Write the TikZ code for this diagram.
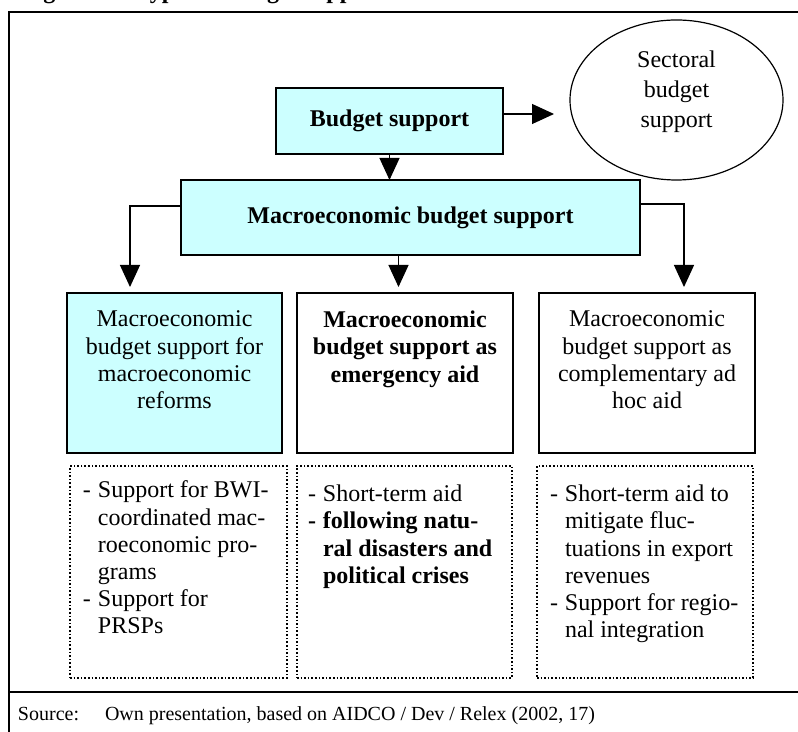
\documentclass[tikz,border=0pt]{standalone}
\usepackage{fontspec}
\setmainfont{Liberation Serif}
\usetikzlibrary{arrows.meta,shapes.geometric}
\definecolor{boxcyan}{RGB}{204,255,255}
\newcommand\lstdash{\makebox[7.5pt][l]{-}}
\newcommand\lstind{\hspace*{7.5pt}}
\begin{document}
\begin{tikzpicture}[x=0.5pt,y=-0.5pt,
  every node/.style={font=\fontsize{12}{13.6}\selectfont, inner sep=0pt, outer sep=0pt},
  cyanbox/.style={draw, line width=0.75pt, fill=boxcyan, rectangle},
  plainbox/.style={draw, line width=0.75pt, rectangle},
  dotbox/.style={draw, densely dotted, line width=0.8pt, rectangle},
  arr/.style={line width=0.6pt, -{Triangle[length=11pt,width=10pt]}},
  frameline/.style={line width=1pt},
  boxtext/.style={align=center, anchor=north},
  listtext/.style={align=left, anchor=north west}]
\useasboundingbox (0,0) rectangle (798,732);
\clip (0,0) rectangle (798,732);

% frame
\draw[frameline] (9,732) -- (9,12) -- (798,12);
\draw[frameline] (9,692) -- (798,692);

% title (cut off at the top, only descenders show)
\node[anchor=base west, font=\bfseries\fontsize{12}{14}\selectfont] (title) at (22,-1) {Figure 12: Types of budget support};

% top nodes
\node[cyanbox, minimum width=113.5pt, minimum height=33pt, font=\bfseries\fontsize{12}{13.6}\selectfont] (bs) at (389.5,121) {Budget support};
\node[draw, ellipse, line width=0.6pt, minimum width=106.5pt, minimum height=80pt] (sec) at (676.5,100) {};
\node[align=center, font=\fontsize{12}{15}\selectfont] (sect) at (676.5,92) {Sectoral\\budget\\support};
\node[cyanbox, minimum width=229.5pt, minimum height=37.5pt, font=\bfseries\fontsize{12}{13.6}\selectfont] (mb) at (410.5,217.5) {Macroeconomic budget support};

% row boxes
\node[cyanbox, minimum width=107.5pt, minimum height=80pt] (b1) at (174.5,373) {};
\node[plainbox, minimum width=108pt, minimum height=80pt] (b2) at (405,373) {};
\node[plainbox, minimum width=108pt, minimum height=80pt] (b3) at (647,373) {};
\node[boxtext] (b1t) at (174.5,311) {Macroeconomic\\budget support for\\macroeconomic\\reforms};
\node[boxtext, font=\bfseries\fontsize{12}{13.6}\selectfont] (b2t) at (405,311) {Macroeconomic\\budget support as\\emergency aid};
\node[boxtext] (b3t) at (647,311) {Macroeconomic\\budget support as\\complementary ad\\hoc aid};

% dotted boxes
\node[dotbox, minimum width=108.5pt, minimum height=106pt] (d1) at (178.5,572) {};
\node[dotbox, minimum width=107.5pt, minimum height=106pt] (d2) at (404.5,572) {};
\node[dotbox, minimum width=108pt, minimum height=106pt] (d3) at (645,572) {};
\node[listtext] (d1t) at (83,481) {\lstdash Support for BWI-\\\lstind coordinated mac-\\\lstind roeconomic pro-\\\lstind grams\\\lstdash Support for\\\lstind PRSPs};
\node[listtext] (d2t) at (308,485) {\lstdash Short-term aid\\\textbf{\lstdash following natu-}\\\lstind\textbf{ral disasters and}\\\lstind\textbf{political crises}};
\node[listtext] (d3t) at (550,485) {\lstdash Short-term aid to\\\lstind mitigate fluc-\\\lstind tuations in export\\\lstind revenues\\\lstdash Support for regio-\\\lstind nal integration};

% connectors
\coordinate (tipS) at (554,114);
\draw[arr] (bs.east |- tipS) -- (tipS);
\draw[arr] (bs.south) -- (bs.south |- mb.north);
\coordinate (l1) at (130,206);
\coordinate (t1) at (130,287);
\coordinate (r1) at (684,204);
\coordinate (t3) at (684,287);
\coordinate (t2) at (398.5,287);
\draw[arr] (mb.west |- l1) -- (l1) -- (t1);
\draw[arr] (mb.east |- r1) -- (r1) -- (t3);
\draw[arr] (mb.south -| t2) -- (t2);

% source
\node[anchor=base west, font=\fontsize{10}{12}\selectfont] (src) at (18,720) {Source:};
\node[anchor=base west, font=\fontsize{10}{12}\selectfont] (srct) at (105,720) {Own presentation, based on AIDCO / Dev / Relex (2002, 17)};
\end{tikzpicture}
\end{document}
